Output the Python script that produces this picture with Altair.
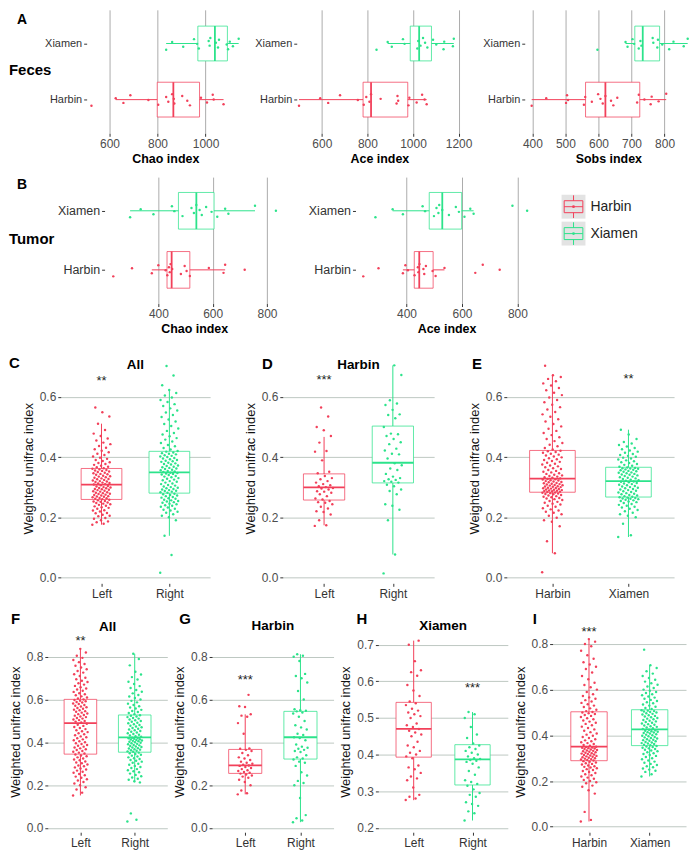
import altair as alt
import pandas as pd

FONT = "Liberation Sans"
RED, GREEN = "#F2405A", "#2CE38B"
GRID = "#BDC8C2"
GRID_H = "#ABABAB"
LABEL = "#4D4D4D"
TICK = "#333333"

# ---------------- Row A: feces (horizontal boxplots) ----------------
A1_HARBIN = [525, 626, 658, 687, 762, 803, 836, 845, 861, 868, 870, 903, 924, 935, 981, 1006, 1030, 1034, 1075]
A1_XIAMEN = [836, 861, 907, 952, 965, 972, 1013, 1017, 1020, 1043, 1052, 1056, 1088, 1094, 1101, 1114, 1138]
A1_STATS = [(626, 799, 866, 975, 1075), (836, 968, 1039, 1091, 1138)]

A2_HARBIN = [500, 593, 628, 680, 758, 784, 795, 809, 816, 858, 928, 932, 935, 980, 984, 1016, 1040, 1051, 1060]
A2_XIAMEN = [840, 889, 907, 956, 963, 1019, 1023, 1033, 1044, 1053, 1063, 1088, 1102, 1134, 1137, 1175, 1179]
A2_STATS = [(500, 781, 816, 977, 1060), (889, 988, 1027, 1081, 1179)]

A3_HARBIN = [398, 442, 502, 505, 508, 556, 560, 580, 599, 606, 613, 621, 638, 645, 657, 717, 722, 739, 758, 761, 782, 805]
A3_XIAMEN = [597, 682, 688, 703, 708, 722, 727, 730, 764, 766, 778, 780, 793, 814, 827, 858, 870]
A3_STATS = [(398, 561, 621, 725, 805), (682, 710, 734, 785, 870)]

# ---------------- Row B: tumor ----------------
B1_HARBIN = [234, 303, 376, 400, 427, 433, 439, 442, 445, 451, 483, 497, 504, 516, 586, 640, 646, 718]
B1_XIAMEN = [296, 335, 382, 450, 459, 489, 522, 531, 540, 552, 560, 576, 596, 617, 646, 658, 756, 833]
B1_STATS = [(376, 432, 449, 516, 646), (296, 474, 540, 605, 756)]

B2_HARBIN = [244, 299, 387, 396, 405, 429, 441, 443, 447, 461, 464, 470, 494, 505, 537, 648, 675, 736]
B2_XIAMEN = [288, 350, 387, 458, 467, 499, 508, 515, 518, 529, 553, 578, 589, 609, 630, 642, 782, 835]
B2_STATS = [(387, 428, 446, 496, 537), (350, 482, 529, 599, 642)]

# ---------------- Row C/D/E ----------------
C_LEFT = [.175, .178, .183, .186, .19, .195, .197, .203, .205, .208, .213, .214, .219, .222, .223, .228, .231, .233, .236, .238,
          .241, .243, .245, .247, .249, .251, .252, .254, .256, .258, .26, .261, .263, .264, .266, .268, .269, .27, .272, .274,
          .275, .277, .278, .28, .281, .283, .285, .286, .288, .29, .291, .293, .294, .296, .297, .299, .3, .302, .304, .306,
          .309, .31, .312, .314, .315, .317, .319, .32, .322, .324, .326, .327, .329, .331, .333, .335, .336, .338, .341, .343,
          .344, .346, .348, .35, .352, .354, .355, .357, .359, .361, .363, .366, .368, .371, .374, .377, .38, .383, .387, .39,
          .394, .398, .402, .407, .411, .416, .421, .426, .431, .437, .443, .448, .455, .462, .47, .478, .49, .511, .535, .549, .565]
C_RIGHT = [.015, .074, .138, .19, .2, .205, .21, .215, .218, .222, .225, .228, .232, .235, .238, .24, .243, .245, .248, .25,
           .252, .254, .256, .258, .261, .263, .265, .267, .27, .272, .274, .276, .278, .281, .283, .285, .287, .288, .29, .292,
           .294, .296, .298, .3, .302, .305, .307, .31, .312, .315, .318, .32, .323, .325, .328, .33, .333, .335, .337, .34,
           .342, .344, .345, .347, .348, .35, .352, .354, .356, .358, .36, .362, .364, .366, .368, .37, .372, .375, .377, .379,
           .381, .384, .386, .388, .39, .393, .395, .397, .4, .402, .404, .406, .409, .411, .413, .415, .418, .42, .425, .43,
           .436, .44, .447, .452, .458, .463, .469, .475, .48, .487, .495, .503, .51, .518, .525, .533, .54, .548, .555, .562,
           .57, .576, .583, .59, .598, .605, .613, .623, .639, .671, .703]
C_STATS = [(0.175, 0.259, 0.308, 0.362, 0.511), (0.138, 0.28, 0.349, 0.419, 0.623)]

D_LEFT = [.171, .173, .19, .209, .217, .22, .229, .235, .243, .248, .25, .254, .259, .262, .27, .276, .281, .285, .286, .292,
          .295, .297, .3, .303, .306, .31, .315, .32, .326, .33, .337, .346, .351, .389, .418, .42, .448, .47, .489, .5, .535, .565]
D_RIGHT = [.013, .076, .19, .225, .238, .243, .276, .287, .292, .303, .308, .315, .318, .32, .324, .326, .33, .335, .344, .357,
           .362, .373, .379, .395, .409, .411, .422, .428, .443, .449, .46, .47, .476, .478, .5, .529, .54, .542, .557, .573,
           .578, .589, .673, .705]
D_STATS = [(0.173, 0.257, 0.299, 0.344, 0.467), (0.076, 0.314, 0.381, 0.503, 0.705)]

E_HARBIN = [.017, .08, .12, .17, .185, .19, .198, .205, .21, .215, .218, .222, .226, .23, .235, .238, .242, .245, .248, .251,
            .254, .257, .26, .262, .264, .266, .268, .27, .272, .274, .276, .277, .279, .28, .281, .282, .284, .285, .286, .287,
            .288, .289, .29, .291, .292, .294, .295, .296, .297, .298, .3, .301, .302, .303, .305, .306, .307, .309, .31, .311,
            .313, .314, .316, .317, .319, .32, .322, .323, .325, .326, .327, .329, .331, .333, .335, .337, .339, .341, .344, .346,
            .349, .351, .354, .357, .36, .363, .366, .369, .372, .375, .378, .381, .384, .387, .39, .393, .396, .399, .402, .405,
            .408, .411, .414, .417, .419, .421, .425, .43, .436, .441, .447, .453, .46, .466, .473, .48, .487, .494, .502, .51,
            .518, .526, .534, .542, .55, .558, .566, .574, .582, .59, .598, .606, .614, .622, .63, .638, .645, .652, .66, .666,
            .672, .704]
E_XIAMEN = [.134, .14, .178, .2, .205, .21, .215, .22, .224, .228, .232, .235, .238, .241, .244, .247, .25, .252, .254, .256,
            .258, .26, .261, .262, .264, .265, .266, .268, .27, .272, .274, .276, .278, .28, .282, .284, .286, .288, .29, .292,
            .294, .296, .298, .3, .302, .304, .306, .308, .31, .312, .314, .316, .318, .319, .321, .323, .325, .327, .329, .331,
            .333, .335, .337, .339, .341, .342, .344, .346, .348, .349, .351, .353, .354, .356, .358, .359, .361, .362, .363, .364,
            .365, .368, .371, .374, .377, .38, .383, .386, .389, .392, .395, .398, .401, .404, .407, .41, .414, .418, .422, .426,
            .43, .435, .44, .445, .45, .46, .475, .491]
E_STATS = [(0.08, 0.283, 0.328, 0.422, 0.672), (0.134, 0.267, 0.32, 0.366, 0.491)]

# ---------------- Row F/G/H/I ----------------
F_LEFT = [.152, .165, .18, .19, .2, .208, .215, .222, .228, .235, .24, .246, .252, .258, .263, .268, .273, .278, .283, .288,
          .292, .297, .302, .306, .311, .316, .32, .325, .33, .335, .339, .343, .348, .352, .356, .36, .364, .368, .372, .376,
          .38, .384, .388, .392, .396, .401, .405, .41, .414, .419, .424, .428, .433, .438, .443, .448, .452, .457, .462, .467,
          .472, .477, .482, .487, .493, .497, .5, .504, .507, .511, .514, .518, .521, .525, .528, .532, .535, .539, .543, .546,
          .55, .553, .557, .561, .564, .568, .571, .575, .579, .582, .586, .589, .592, .595, .598, .6, .605, .61, .615, .62,
          .625, .63, .636, .641, .647, .652, .658, .664, .67, .676, .682, .688, .695, .702, .71, .718, .726, .734, .742, .75,
          .758, .766, .775, .785, .795, .805, .82, .837]
F_RIGHT = [.03, .038, .068, .213, .218, .225, .23, .236, .242, .248, .254, .26, .265, .27, .275, .28, .285, .29, .295, .3,
           .305, .31, .314, .318, .322, .326, .33, .334, .338, .342, .346, .349, .352, .356, .358, .361, .363, .366, .368, .371,
           .373, .376, .378, .381, .383, .386, .388, .391, .393, .396, .398, .401, .403, .405, .407, .409, .411, .413, .415, .417,
           .419, .42, .422, .426, .429, .432, .436, .439, .443, .446, .45, .453, .457, .46, .464, .467, .471, .474, .478, .481,
           .485, .489, .492, .496, .5, .503, .507, .511, .514, .518, .521, .524, .527, .532, .537, .542, .547, .552, .558, .563,
           .569, .575, .581, .587, .594, .6, .607, .614, .621, .629, .637, .645, .654, .663, .673, .683, .694, .705, .717, .73,
           .76, .79, .814]
F_STATS = [(0.152, 0.345, 0.49, 0.601, 0.837), (0.213, 0.354, 0.423, 0.528, 0.814)]

G_LEFT = [.157, .162, .175, .2, .215, .225, .235, .24, .245, .25, .254, .258, .262, .266, .27, .275, .28, .285, .29, .292,
          .295, .3, .305, .31, .318, .325, .33, .34, .35, .36, .365, .37, .372, .44, .49, .52, .525, .531, .565, .569, .622]
G_RIGHT = [.027, .035, .045, .06, .14, .2, .21, .22, .245, .26, .29, .305, .31, .32, .325, .33, .34, .355, .36, .365,
           .37, .375, .38, .39, .41, .42, .424, .435, .44, .46, .47, .48, .5, .52, .535, .54, .545, .548, .55, .555,
           .6, .64, .68, .7, .71, .72, .78, .8, .805, .812]
G_STATS = [(0.157, 0.255, 0.292, 0.367, 0.531), (0.027, 0.322, 0.424, 0.545, 0.812)]

H_LEFT = [.276, .28, .285, .29, .31, .33, .335, .34, .35, .36, .365, .37, .39, .395, .4, .405, .41, .42, .425, .435,
          .45, .455, .46, .465, .47, .475, .48, .485, .5, .505, .51, .515, .52, .525, .535, .54, .545, .56, .575, .59,
          .615, .625, .63, .655, .7, .711]
H_RIGHT = [.22, .24, .245, .26, .265, .27, .285, .29, .295, .305, .315, .32, .325, .33, .345, .355, .365, .375, .38, .383,
           .385, .388, .39, .395, .4, .405, .41, .415, .42, .425, .43, .445, .455, .475, .5, .51, .516]
H_STATS = [(0.2755, 0.393, 0.47, 0.5425, 0.711), (0.22, 0.317, 0.387, 0.427, 0.516)]

I_HARBIN = [.023, .03, .065, .145, .16, .175, .18, .19, .195, .2, .205, .21, .215, .22, .225, .23, .235, .24, .244, .248,
            .252, .256, .259, .262, .265, .268, .272, .275, .278, .281, .284, .287, .29, .292, .294, .296, .298, .3, .302, .304,
            .306, .308, .31, .312, .314, .316, .318, .32, .322, .324, .326, .328, .33, .332, .334, .336, .338, .34, .342, .344,
            .346, .347, .349, .35, .354, .358, .362, .366, .37, .374, .378, .383, .388, .393, .398, .403, .408, .414, .42, .426,
            .432, .438, .444, .45, .455, .46, .465, .47, .475, .48, .485, .489, .493, .497, .5, .502, .506, .512, .518, .524,
            .53, .536, .542, .548, .554, .56, .566, .572, .58, .59, .6, .61, .62, .63, .645, .66, .675, .69, .7, .71,
            .72, .735, .75, .77, .79, .8, .81, .821]
I_XIAMEN = [.22, .23, .24, .245, .25, .255, .26, .265, .27, .275, .28, .285, .29, .295, .3, .305, .31, .314, .318, .322,
            .326, .33, .334, .337, .34, .343, .346, .349, .351, .353, .357, .359, .362, .364, .366, .369, .371, .374, .376, .379,
            .381, .383, .386, .388, .391, .393, .396, .398, .4, .403, .405, .408, .41, .412, .414, .416, .418, .42, .422, .424,
            .428, .431, .434, .437, .44, .443, .446, .449, .452, .455, .458, .461, .464, .467, .47, .473, .476, .479, .482, .485,
            .488, .491, .494, .497, .5, .502, .504, .506, .508, .51, .515, .52, .525, .53, .535, .54, .545, .55, .555, .56,
            .565, .57, .575, .58, .585, .59, .595, .6, .607, .614, .621, .628, .635, .643, .651, .66, .67, .68, .695, .707, .775]
I_STATS = [(0.023, 0.289, 0.351, 0.503, 0.821), (0.22, 0.355, 0.426, 0.512, 0.707)]

SIDES = ["Left", "Right"]
CITIES = ["Harbin", "Xiamen"]


def pts_df(cats, lists):
    return pd.DataFrame([{"cat": c, "pos": k + 1, "v": v, "i": i}
                         for k, (c, vals) in enumerate(zip(cats, lists)) for i, v in enumerate(vals)])


def stats_df(cats, stats):
    return pd.DataFrame([{"cat": c, "pos": k + 1, "lo": s[0], "q1": s[1], "med": s[2], "q3": s[3], "hi": s[4]}
                         for k, (c, s) in enumerate(zip(cats, stats))])


def label_layer(text, x, y, size, weight="bold", align="left"):
    return alt.Chart(pd.DataFrame({"t": [text]})).mark_text(
        align=align, baseline="middle", fontSize=size, fontWeight=weight, color="black", clip=False
    ).encode(x=alt.value(x), y=alt.value(y), text="t:N")


def jit(spread):
    return f"datum.pos + ((datum.i * 0.6180339887) % 1 - 0.5) * {spread}"


def hpanel(lists, stats, xdom, xticks, xtitle, w, h, ydom, ysize, extras):
    cats = CITIES
    col = alt.Scale(domain=cats, range=[RED, GREEN])
    xs = alt.Scale(domain=xdom, nice=False, zero=False)
    ys = alt.Scale(domain=ydom, nice=False, zero=False)
    xax = alt.Axis(values=xticks, format="d", grid=True, gridColor=GRID_H, domain=False, tickSize=3, tickColor=TICK,
                   labelColor=LABEL, labelFontSize=12, labelPadding=2, title=xtitle, titleFontSize=12.5,
                   titleFontWeight="bold", titleColor="black", titlePadding=3)
    yax = alt.Axis(values=[1, 2], labelExpr="datum.value == 1 ? 'Harbin' : 'Xiamen'", grid=False, domain=False,
                   tickSize=3, tickColor=TICK, labelColor="#333333", labelFontSize=ysize, labelPadding=2, title=None)
    sdf, pdf = stats_df(cats, stats), pts_df(cats, lists)
    C = alt.Color("cat:N", scale=col, legend=None)
    whisk = alt.Chart(sdf).mark_rule(strokeWidth=1).encode(
        x=alt.X("lo:Q", scale=xs, axis=xax), x2="hi:Q", y=alt.Y("pos:Q", scale=ys, axis=yax), color=C)
    box = alt.Chart(sdf).mark_rect(fill="white", strokeWidth=1, strokeOpacity=0.75).transform_calculate(
        ya="datum.pos - 0.31", yb="datum.pos + 0.31").encode(
        x=alt.X("q1:Q", scale=xs, axis=xax), x2="q3:Q", y=alt.Y("ya:Q", scale=ys, axis=yax), y2="yb:Q",
        stroke=alt.Stroke("cat:N", scale=col, legend=None))
    med = alt.Chart(sdf).mark_rule(strokeWidth=1.8).transform_calculate(
        ya="datum.pos - 0.31", yb="datum.pos + 0.31").encode(
        x=alt.X("med:Q", scale=xs, axis=xax), y=alt.Y("ya:Q", scale=ys, axis=yax), y2="yb:Q", color=C)
    pts = alt.Chart(pdf).mark_circle(size=6, opacity=1).transform_calculate(j=jit(0.22)).encode(
        x=alt.X("v:Q", scale=xs, axis=xax), y=alt.Y("j:Q", scale=ys, axis=yax), color=C)
    layers = [whisk, box, med, pts] + [label_layer(*e) for e in extras]
    return alt.layer(*layers).properties(width=w, height=h)


def vpanel(cats, lists, stats, ydom, yticks, w, h, letter, lx, ly, title, ty, star, star_idx, star_v):
    col = alt.Scale(domain=cats, range=[RED, GREEN])
    xs = alt.Scale(domain=[0.4, 2.6], nice=False, zero=False)
    ys = alt.Scale(domain=ydom, nice=False, zero=False)
    lab = f"datum.value == 1 ? '{cats[0]}' : '{cats[1]}'"
    xax = alt.Axis(values=[1, 2], labelExpr=lab, grid=False, domain=False, tickSize=3, tickColor=TICK,
                   labelColor="#333333", labelFontSize=12, labelPadding=2, title=None)
    yax = alt.Axis(values=yticks, format=".1f", grid=True, gridColor=GRID, domain=False, tickSize=3, tickColor=TICK,
                   labelColor=LABEL, labelFontSize=12, labelPadding=2, title="Weighted unifrac index",
                   titleFontSize=13, titleFontWeight="normal", titleColor="#111111", titlePadding=4)
    sdf, pdf = stats_df(cats, stats), pts_df(cats, lists)
    C = alt.Color("cat:N", scale=col, legend=None)
    whisk = alt.Chart(sdf).mark_rule(strokeWidth=1).encode(
        x=alt.X("pos:Q", scale=xs, axis=xax), y=alt.Y("lo:Q", scale=ys, axis=yax), y2="hi:Q", color=C)
    box = alt.Chart(sdf).mark_rect(fill="white", strokeWidth=1, strokeOpacity=0.75).transform_calculate(
        xa="datum.pos - 0.3", xb="datum.pos + 0.3").encode(
        x=alt.X("xa:Q", scale=xs, axis=xax), x2="xb:Q", y=alt.Y("q1:Q", scale=ys, axis=yax), y2="q3:Q",
        stroke=alt.Stroke("cat:N", scale=col, legend=None))
    med = alt.Chart(sdf).mark_rule(strokeWidth=1.8).transform_calculate(
        xa="datum.pos - 0.3", xb="datum.pos + 0.3").encode(
        x=alt.X("xa:Q", scale=xs, axis=xax), x2="xb:Q", y=alt.Y("med:Q", scale=ys, axis=yax), color=C)
    pts = alt.Chart(pdf).mark_circle(size=6, opacity=1).transform_calculate(j=jit(0.27)).encode(
        x=alt.X("j:Q", scale=xs, axis=xax), y=alt.Y("v:Q", scale=ys, axis=yax), color=C)
    st = alt.Chart(pd.DataFrame({"pos": [star_idx], "v": [star_v], "t": [star]})).mark_text(
        fontSize=13, baseline="middle", dy=3, color="#222222").encode(
        x=alt.X("pos:Q", scale=xs, axis=xax), y=alt.Y("v:Q", scale=ys, axis=yax), text="t:N")
    layers = [whisk, box, med, pts, st, label_layer(letter, lx, ly, 15)]
    if title:
        layers.append(label_layer(title, w / 2, ty, 13.5, align="center"))
    return alt.layer(*layers).properties(width=w, height=h)


def spacer():
    # empty 1px view that anchors each row at the left edge
    return alt.Chart(pd.DataFrame({"t": [""]})).mark_text(baseline="top", fontSize=1).encode(
        text="t:N", x=alt.value(0), y=alt.value(0)).properties(width=1, height=1)


# legend (Harbin / Xiamen boxplot keys)
KEY_PATH = "M-0.78,-0.5L0.78,-0.5L0.78,0.5L-0.78,0.5Z M-0.78,0L0.78,0 M0,-0.5L0,-0.95 M0,0.5L0,0.95"
leg_df = pd.DataFrame({"cat": CITIES, "pos": [2, 1]})
leg_col = alt.Scale(domain=CITIES, range=[RED, GREEN])
LY = alt.Y("pos:Q", scale=alt.Scale(domain=[-1.6, 3.1], nice=False, zero=False), axis=None)
legend = alt.layer(
    alt.Chart(leg_df).mark_square(size=576, color="#E3E3E3", opacity=1).encode(x=alt.value(12), y=LY),
    alt.Chart(leg_df).mark_point(shape=KEY_PATH, size=576, filled=False, strokeWidth=1, opacity=1).encode(
        x=alt.value(12), y=LY, stroke=alt.Stroke("cat:N", scale=leg_col, legend=None)),
    alt.Chart(leg_df).mark_circle(size=8, opacity=1).encode(
        x=alt.value(12), y=LY, color=alt.Color("cat:N", scale=leg_col, legend=None)),
    alt.Chart(leg_df).mark_text(align="left", baseline="middle", fontSize=14, color="#222222").encode(
        x=alt.value(29), y=LY, text="cat:N"),
).properties(width=80, height=127)

A1 = hpanel([A1_HARBIN, A1_XIAMEN], A1_STATS, [505, 1160], [600, 800, 1000], "Chao index", 158, 124, [0.4, 2.6], 11,
            [("A", -70, 10, 14), ("Feces", -78, 60, 15)])
A2 = hpanel([A2_HARBIN, A2_XIAMEN], A2_STATS, [490, 1215], [600, 800, 1000, 1200], "Ace index", 166, 124, [0.4, 2.6], 11, [])
A3 = hpanel([A3_HARBIN, A3_XIAMEN], A3_STATS, [377, 883], [400, 500, 600, 700, 800], "Sobs index", 168, 124, [0.4, 2.6], 11, [])

B1 = hpanel([B1_HARBIN, B1_XIAMEN], B1_STATS, [202, 862], [400, 600, 800], "Chao index", 180, 127, [0.43, 2.57], 12.5,
            [("B", -88, 8, 14), ("Tumor", -96, 62, 15)])
B2 = hpanel([B2_HARBIN, B2_XIAMEN], B2_STATS, [216, 873], [400, 600, 800], "Ace index", 183, 127, [0.43, 2.57], 12.5, [])

CD_DOM = [-0.02, 0.745]
C = vpanel(SIDES, [C_LEFT, C_RIGHT], C_STATS, CD_DOM, [0, .2, .4, .6], 150, 231, "C", -52, 10, "All", 12, "**", 1, 0.662)
D = vpanel(SIDES, [D_LEFT, D_RIGHT], D_STATS, CD_DOM, [0, .2, .4, .6], 152, 231, "D", -21, 11, "Harbin", 12, "***", 1, 0.666)
E = vpanel(CITIES, [E_HARBIN, E_XIAMEN], E_STATS, CD_DOM, [0, .2, .4, .6], 168, 231, "E", -35, 11, None, 0, "**", 2, 0.671)

F = vpanel(SIDES, [F_LEFT, F_RIGHT], F_STATS, [-0.02, 0.92], [0, .2, .4, .6, .8], 120, 202, "F", -37, -12, "All", -4, "**", 1, 0.887)
G = vpanel(SIDES, [G_LEFT, G_RIGHT], G_STATS, [-0.02, 0.92], [0, .2, .4, .6, .8], 122, 202, "G", -33, -12, "Harbin", -5, "***", 1, 0.704)
H = vpanel(SIDES, [H_LEFT, H_RIGHT], H_STATS, [0.188, 0.737], [.2, .3, .4, .5, .6, .7], 130, 202, "H", -22, -12, "Xiamen", -5, "***", 2, 0.59)
I = vpanel(CITIES, [I_HARBIN, I_XIAMEN], I_STATS, [-0.024, 0.856], [0, .2, .4, .6, .8], 134, 202, "I", -20, -12, None, 0, "***", 1, 0.864)

rowA = alt.hconcat(spacer(), alt.hconcat(A1, A2, A3, spacing=10), spacing=0)
rowB = alt.hconcat(spacer(), alt.hconcat(B1, B2, legend, spacing=24), spacing=0)
rowC = alt.hconcat(spacer(), alt.hconcat(C, D, E, spacing=34), spacing=0)
rowF = alt.hconcat(spacer(), alt.hconcat(F, G, H, I, spacing=6), spacing=0)

top = alt.vconcat(rowA, rowB, spacing=12)
bottom = alt.vconcat(rowC, rowF, spacing=13)

chart = alt.vconcat(top, bottom, spacing=18).properties(
    padding={"left": 0, "top": 0, "right": 0, "bottom": 0}
).configure(font=FONT).configure_view(strokeWidth=0)

chart.save("out.html", embed_options={"renderer": "svg", "actions": False})
